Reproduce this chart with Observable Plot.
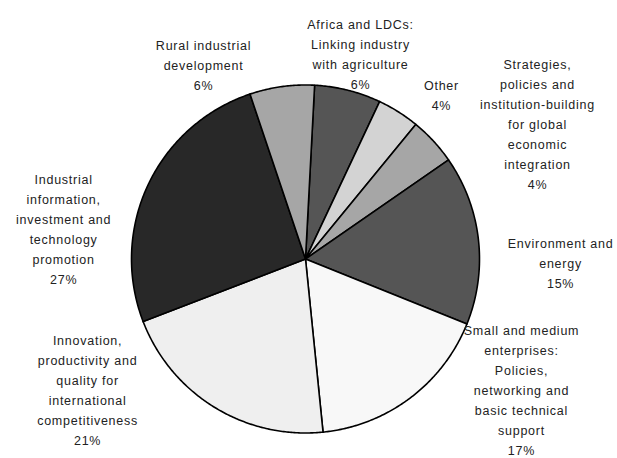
<!DOCTYPE html>
<html><head><meta charset="utf-8">
<script src="https://cdn.jsdelivr.net/npm/d3@7"></script>
<script src="https://cdn.jsdelivr.net/npm/@observablehq/plot@0.6"></script>
<style>
html,body{margin:0;padding:0;background:#fff;}
#chart svg text{letter-spacing:0.75px;}
</style></head><body><div id="chart"></div>
<script>
// Categories, clockwise from the top
const categories = ["Africa and LDCs", "Other", "Strategies", "Environment and energy", "Small and medium enterprises", "Innovation", "Industrial information", "Rural industrial development"];
// Shares (percent)
const shares = [6.17, 3.92, 4.44, 15.72, 17.31, 20.75, 25.69, 6.0];
// Printed percentage labels
const pctLabels = ["6%", "4%", "4%", "15%", "17%", "21%", "27%", "6%"];
// Label texts (line breaks as printed)
const labelText = [
  "Africa and LDCs:\nLinking industry\nwith agriculture",
  "Other",
  "Strategies,\npolicies and\ninstitution-building\nfor global\neconomic\nintegration",
  "Environment and\nenergy",
  "Small and medium\nenterprises:\nPolicies,\nnetworking and\nbasic technical\nsupport",
  "Innovation,\nproductivity and\nquality for\ninternational\ncompetitiveness",
  "Industrial\ninformation,\ninvestment and\ntechnology\npromotion",
  "Rural industrial\ndevelopment"
];

// styling / layout
const palette = ["#555555", "#d3d3d3", "#a6a6a6", "#555555", "#f8f8f8", "#efefef", "#282828", "#a6a6a6"];
const startAngle = 3; // degrees clockwise from 12 o'clock
const labelShift = [0.8, 7.2, 12.2, 7.0, -22.0, 27.7, -17.7, -19.7]; // degrees from slice mid-angle
const labelRadius = [1.228, 1.229, 1.547, 1.466, 1.449, 1.457, 1.402, 1.269]; // in pie radii

const total = d3.sum(shares);
let acc = startAngle;
const slices = categories.map((c, i) => {
  const a0 = acc, a1 = acc + shares[i] / total * 360;
  acc = a1;
  return {c, a0, a1, i};
});
const rad = d => d * Math.PI / 180;
const pts = [];
for (const s of slices) {
  pts.push({c: s.c, x: 0, y: 0});
  const n = Math.max(2, Math.ceil((s.a1 - s.a0) / 0.5));
  for (let k = 0; k <= n; k++) {
    const a = rad(s.a0 + (s.a1 - s.a0) * k / n);
    pts.push({c: s.c, x: Math.sin(a), y: Math.cos(a)});
  }
  pts.push({c: s.c, x: 0, y: 0});
}
const labels = slices.map(s => {
  const a = rad((s.a0 + s.a1) / 2 + labelShift[s.i]);
  const r = labelRadius[s.i];
  return {x: r * Math.sin(a), y: r * Math.cos(a), text: labelText[s.i] + "\n" + pctLabels[s.i]};
});

const chart = Plot.plot({
  width: 617, height: 458, margin: 0,
  x: {domain: [-1, 1], range: [131, 479], axis: null},
  y: {domain: [-1, 1], range: [432.5, 84.5], axis: null},
  color: {domain: categories, range: palette},
  style: {fontFamily: "'Liberation Sans Narrow','Arial Narrow','Liberation Sans',Arial,sans-serif", fontSize: "12.5px", background: "#fff"},
  marks: [
    Plot.line(pts, {x: "x", y: "y", z: "c", fill: "c", stroke: "#000", strokeWidth: 1.6, strokeLinejoin: "round"}),
    Plot.text(labels, {x: "x", y: "y", text: "text", lineAnchor: "middle", lineHeight: 1.6, fill: "#222", fontSize: 12.5})
  ]
});
document.getElementById("chart").appendChild(chart);
</script>
</body></html>
